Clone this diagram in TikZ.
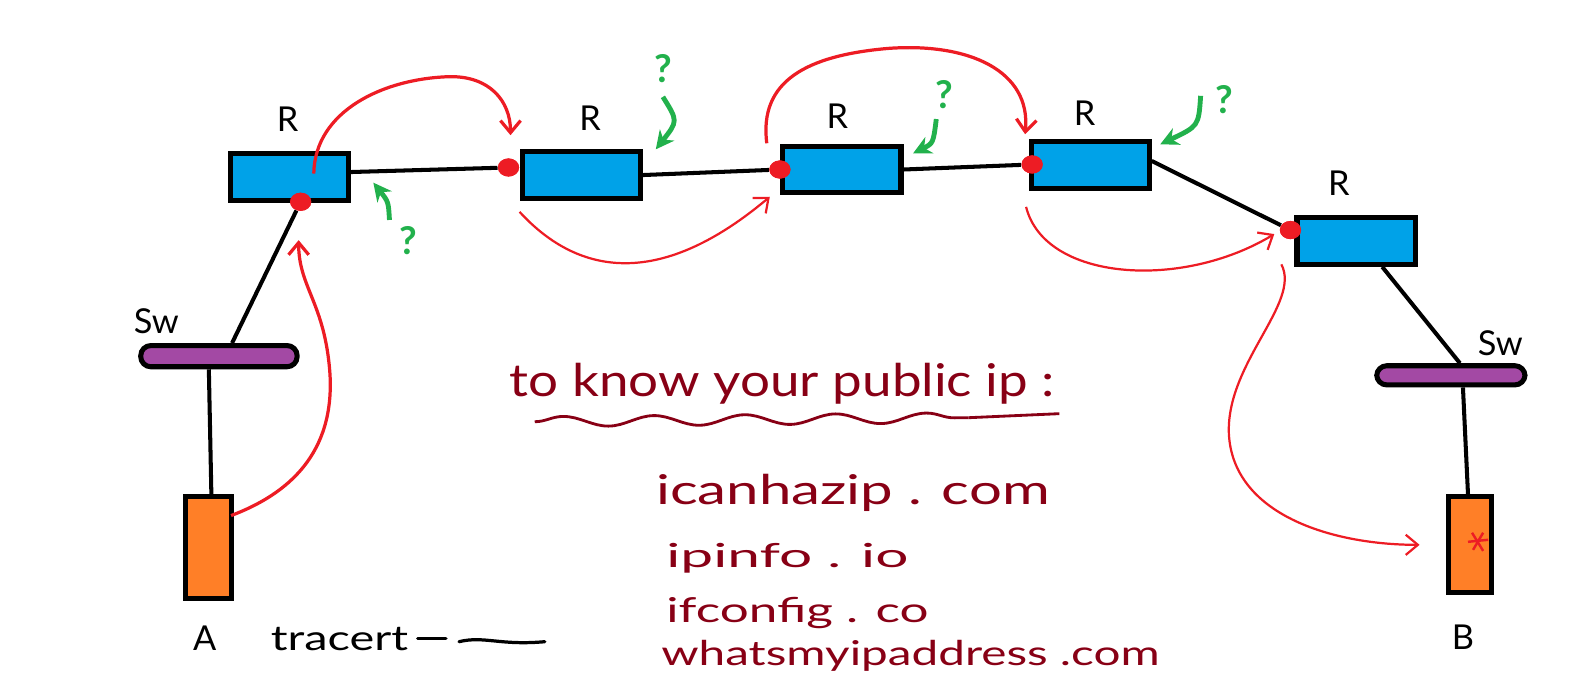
\documentclass[tikz,border=0pt]{standalone}
\usepackage{fontspec}
\usepackage{graphicx}
\setmainfont{Lato}
\usetikzlibrary{arrows.meta,decorations.pathmorphing,calc,shapes.geometric}
\definecolor{rblue}{HTML}{00A2E8}
\definecolor{swpurple}{HTML}{A349A4}
\definecolor{horange}{HTML}{FF7F27}
\definecolor{pred}{HTML}{ED1C24}
\definecolor{pgreen}{HTML}{22B14C}
\definecolor{inkred}{HTML}{880015}
\newcommand{\fitwh}[3]{\resizebox{#1}{#2}{#3}}
\begin{document}
\begin{tikzpicture}[x=0.5pt,y=-0.5pt,
  router/.style={draw=black,line width=2.5pt,fill=rblue,minimum width=58.5pt,minimum height=23pt,inner sep=0pt},
  switchbox/.style={draw=black,line width=2.5pt,fill=swpurple,minimum width=77.5pt,minimum height=10.5pt,rounded corners=5pt,inner sep=0pt},
  hostbox/.style={draw=black,line width=2.5pt,fill=horange,inner sep=0pt},
  link/.style={draw=black,line width=2pt},
  portdot/.style={ellipse,fill=pred,minimum width=10.5pt,minimum height=9pt,inner sep=0pt},
  hop/.style={draw=pred,line width=1.1pt,-{Straight Barb[length=6pt,width=10pt,line width=1.1pt]}},
  hopthick/.style={draw=pred,line width=1.6pt,-{Straight Barb[length=6pt,width=10pt,line width=1.6pt]}},
  query/.style={draw=pgreen,line width=2.4pt,-{Stealth[length=9pt,width=9pt]}},
  qmark/.style={text=pgreen,font=\fontsize{19}{19}\selectfont\bfseries},
  lbl/.style={text=black,font=\fontsize{17}{17}\selectfont},
  ink/.style={text=inkred,anchor=base west,inner sep=0pt}
]
\useasboundingbox (0,0) rectangle (1568,676);

% routers, switches, hosts
\node[router] (r1) at (287,175.5) {};
\node[router] (r2) at (576,173.5) {};
\node[router] (r3) at (834.5,168) {};
\node[router] (r4) at (1080.5,163.5) {};
\node[router] (r5) at (1344,239) {};
\node[switchbox] (sw1) at (217,353) {};
\node[switchbox,minimum width=73.5pt,minimum height=9.5pt] (sw2) at (1438,372) {};
\node[hostbox,minimum width=23pt,minimum height=50.5pt] (ha) at (206.5,543) {};
\node[hostbox,minimum width=21.5pt,minimum height=47.5pt] (hb) at (1457,540) {};

% labels
\node[lbl] (lr1) at (285,118) {R};
\node[lbl] (lr2) at (585,117) {R};
\node[lbl] (lr3) at (830,115) {R};
\node[lbl] (lr4) at (1075,112) {R};
\node[lbl] (lr5) at (1327,182) {R};
\node[lbl] (lsw1) at (155,318) {Sw};
\node[lbl] (lsw2) at (1487,340) {Sw};
\node[lbl] (la) at (203,633) {A};
\node[lbl] (lb) at (1450,632) {B};
\node[text=black,anchor=base west,inner sep=0pt] (ltr) at (268,645) {\fitwh{68pt}{11.5pt}{tracert}};

% port dots
\node[portdot] (d1) at (298,200) {};
\node[portdot] (d2) at (504,166) {};
\node[portdot] (d3) at (773,168) {};
\node[portdot] (d4) at (1023,163) {};
\node[portdot] (d5) at (1279,228) {};

% links
\draw[link] ([yshift=2.5pt]r1.east) -- (d2);
\draw[link] (r2.east) -- (d3);
\draw[link] (r3.east) -- (d4);
\draw[link] ([yshift=2pt]r4.east) -- (d5);
\draw[link] ([xshift=13pt]r5.south) -- ([xshift=4.5pt]sw2.north);
\draw[link] ([xshift=6pt]sw2.south) -- ([xshift=-1pt]hb.north);
\draw[link] ([xshift=6.5pt]sw1.north) -- (d1);
\draw[link] ([xshift=-5pt]sw1.south) -- ([xshift=1.5pt]ha.north);
% re-draw dots on top
\node[portdot] at (d1) {};
\node[portdot] at (d2) {};
\node[portdot] at (d3) {};
\node[portdot] at (d4) {};
\node[portdot] at (d5) {};

% tracert dash
\coordinate (tr1) at (414,633);
\coordinate (tr2) at (442,633);
\coordinate (tr3) at (455,636);
\coordinate (tr4) at (540,636);
\draw[black,line width=1.6pt,line cap=round] (tr1) -- (tr2);
\draw[black,line width=1.6pt,line cap=round] (tr3) .. controls (480,630) and (495,640) .. (tr4);

% red hop arrows
\coordinate (a1s) at (229,511); \coordinate (a1e) at (296,238);
\draw[hopthick] (a1s) .. controls (285,490) and (332,450) .. (327,370) .. controls (322,300) and (296,285) .. (a1e);
\coordinate (a2s) at (311,172); \coordinate (a2e) at (506,134);
\draw[hopthick] (a2s) .. controls (312,110) and (380,78) .. (445,76) .. controls (485,75) and (506,100) .. (a2e);
\coordinate (a3s) at (515,210); \coordinate (a3e) at (763,195);
\draw[hop] (a3s) .. controls (570,270) and (650,290) .. (a3e);
\coordinate (a4s) at (760,142); \coordinate (a4e) at (1016,133);
\draw[hopthick] (a4s) .. controls (752,80) and (800,55) .. (880,48) .. controls (960,42) and (1022,70) .. (a4e);
\coordinate (a5s) at (1017,205); \coordinate (a5e) at (1263,232);
\draw[hop] (a5s) .. controls (1035,278) and (1170,288) .. (a5e);
\coordinate (a6s) at (1270,262); \coordinate (a6e) at (1407,540);
\draw[hop] (a6s) .. controls (1290,300) and (1215,360) .. (1218,430) .. controls (1222,510) and (1320,540) .. (a6e);

% star in B
\coordinate (st) at (1465,537);
\draw[pred,line width=1.2pt] ($(st)+(-10,0)$) -- ($(st)+(10,-2)$);
\draw[pred,line width=1.2pt] ($(st)+(-6,-9)$) -- ($(st)+(5,9)$);
\draw[pred,line width=1.2pt] ($(st)+(5,-9)$) -- ($(st)+(-5,8)$);

% green queries
\node[qmark] (q1) at (405,238) {?};
\node[qmark] (q2) at (657,68) {?};
\node[qmark] (q3) at (936,94) {?};
\node[qmark] (q4) at (1213,99) {?};
\coordinate (g1s) at (386,218); \coordinate (g1e) at (370,181);
\draw[query] (g1s) .. controls (385,200) .. (g1e);
\coordinate (g2s) at (657,96); \coordinate (g2e) at (650,148);
\draw[query] (g2s) .. controls (672,120) .. (g2e);
\coordinate (g3s) at (928,118); \coordinate (g3e) at (905,152);
\draw[query] (g3s) .. controls (925,142) .. (g3e);
\coordinate (g4s) at (1190,95); \coordinate (g4e) at (1150,143);
\draw[query] (g4s) .. controls (1188,125) .. (g4e);

% public ip notes
\node[ink] (t0) at (505,393) {\fitwh{270pt}{16.5pt}{to know your public ip :}};
\coordinate (u1) at (530,418); \coordinate (u2) at (960,414); \coordinate (u3) at (1050,410);
\draw[inkred,line width=1.4pt,decorate,decoration={snake,amplitude=2.5pt,segment length=45pt}] (u1) -- (u2);
\draw[inkred,line width=1.4pt] (u2) -- (u3);
\node[ink] (t1) at (650,500) {\fitwh{195pt}{15pt}{icanhazip . com}};
\node[ink] (t2) at (660,562) {\fitwh{120pt}{12pt}{ipinfo . io}};
\node[ink] (t3) at (660,617) {\fitwh{130pt}{12.5pt}{ifconfig . co}};
\node[ink] (t4) at (655,660) {\fitwh{247pt}{12.5pt}{whatsmyipaddress .com}};
\end{tikzpicture}
\end{document}
